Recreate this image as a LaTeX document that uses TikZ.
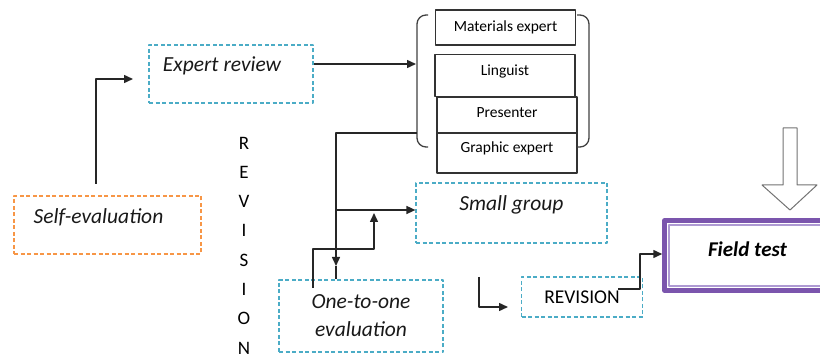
\documentclass[tikz,border=0pt]{standalone}
\usepackage{fontspec}
\setmainfont{Carlito}
\usetikzlibrary{arrows.meta}
\definecolor{boxcyan}{HTML}{4BACC6}
\definecolor{boxorange}{HTML}{F79646}
\definecolor{fieldpurple}{HTML}{7B55AD}
\definecolor{fieldlight}{HTML}{AE9AD3}
\begin{document}
\begin{tikzpicture}[x=1pt,y=-1pt,>={Triangle[length=9pt,width=8pt]},line join=round,
		stagetext/.style={font=\fontsize{21.5}{28}\selectfont\itshape,text=black!90},
		cbox/.style={draw=boxcyan,line width=1.2pt,dash pattern=on 4pt off 2.5pt,inner sep=0pt},
		obox/.style={cbox,draw=boxorange},
		member/.style={draw=black!80,line width=1.4pt,minimum width=140,inner sep=0pt,font=\fontsize{15.5}{18}\selectfont},
		link/.style={draw=black!85,line width=1.5pt},
		brack/.style={draw=black!75,line width=1.3pt,rounded corners=9pt}]
			\useasboundingbox (0,0) rectangle (820,358);
			\node[obox,minimum width=187,minimum height=58,label={[stagetext,xshift=-9pt,yshift=8pt]center:Self-evaluation}] (self) at (107.5,225) {};
			\node[cbox,minimum width=164,minimum height=58,label={[stagetext,xshift=-9pt,yshift=8pt]center:Expert review}] (expert) at (231,74) {};
			\node[cbox,minimum width=191,minimum height=60,label={[stagetext,yshift=8pt]center:Small group}] (small) at (511.5,213) {};
			\node[cbox,minimum width=164,minimum height=72,stagetext,align=center] (one) at (361,316) {One-to-one\\evaluation};
			\node[cbox,minimum width=121,minimum height=40,font=\fontsize{19.5}{22}\selectfont] (rev) at (582,297) {REVISION};
			\node[draw=fieldpurple,line width=4.5pt,minimum width=166,minimum height=70,label={[font=\fontsize{21}{24}\selectfont\bfseries\itshape,yshift=6pt]center:Field test}] (field) at (747.5,255.5) {};
			\draw[fieldlight,line width=1.6pt] ([shift={(6.5,6.5)}]field.north west) rectangle ([shift={(-6.5,-6.5)}]field.south east);
			\foreach \n/\x/\y/\h/\s/\t in {
				mat/505.5/27.5/35/0/Materials expert,
				ling/505/75.5/42/3.5/Linguist,
				pres/507/115/36/2/Presenter,
				graph/507/153/40/5/Graphic expert
			}
			\node[member,minimum height=\h,label={[yshift=\s pt,font=\fontsize{15.5}{18}\selectfont]center:\t}] (\n) at (\x,\y) {};
			\draw[brack] (428,15) -- (417,15) -- (417,147) -- (428,147);
			\draw[brack] (577,15) -- (589,15) -- (589,147) -- (577,147);
			\foreach \l [count=\i] in {R,E,V,I,S,I,O,N}
				\node[font=\fontsize{19}{22}\selectfont] (v\i) at (244,{143+29.3*(\i-1)}) {\l};
			\draw[gray!90!black,line width=1pt,fill=white] (783,128) -- (797,128) -- (797,185) -- (817,185) -- (790,210) -- (762,185) -- (783,185) -- cycle;
			\coordinate (s0) at (96,184);
			\coordinate (s1) at (133,79);
			\coordinate (brin) at (416,64);
			\coordinate (brout) at (417,133);
			\coordinate (down) at (336,266);
			\coordinate (split) at (336,210);
			\coordinate (up0) at (313,288);
			\coordinate (up1) at (374,213);
			\coordinate (l0) at (479,277);
			\coordinate (l1) at (508,307);
			\coordinate (r0) at (618,289);
			\draw[link,->] (s0) |- (s1);
			\draw[link,->] ([yshift=10pt]expert.east) -- (brin);
			\draw[link,->] (brout) -| (down);
			\draw[link] (down) -- (down |- one.north);
			\draw[link,->] (split) -- (split -| small.west);
			\draw[link,->] (up0) -- ++(0,-39) -| (up1);
			\draw[link,->] (l0) |- (l1);
			\draw[link,->] (r0) -- ++(22,0) |- ([yshift=1.5pt]field.west);
		\end{tikzpicture}
\end{document}
